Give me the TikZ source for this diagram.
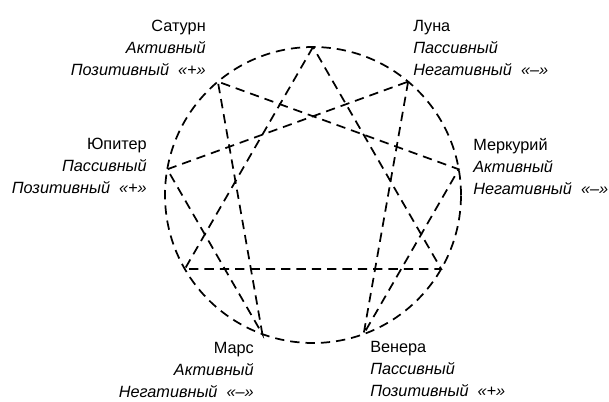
\documentclass[tikz,border=0pt]{standalone}
\usepackage{fontspec}
\setmainfont{Liberation Sans}
\begin{document}
\begin{tikzpicture}[x=0.75pt,y=0.75pt,
    dash line/.style={dash pattern=on 7pt off 4.5pt, line width=1.3pt},
    planet/.style={inner sep=0pt, font=\fontsize{12.2}{16.5}\selectfont}]
  \useasboundingbox (-313,-206) rectangle (296,195);

  % circle and its nine points
  \coordinate (centre) at (0,0);
  \draw[dash line] (centre) circle [radius=148];
  \foreach \i in {0,...,8}
    \coordinate (p\i) at ({90-40*\i}:148);

  % triangle and star
  \draw[dash line] (p0) -- (p6) -- (p3) -- cycle;
  \draw[dash line] (p1) -- (p4) -- (p2) -- (p8) -- (p5) -- (p7) -- cycle;

  % labels
  \node[planet, anchor=north east, align=right] (saturn) at (-107,175)
    {Сатурн\\\textit{Активный}\\\textit{Позитивный \ «+»}};
  \node[planet, anchor=north east, align=right] (jupiter) at (-166,57)
    {Юпитер\\\textit{Пассивный}\\\textit{Позитивный \ «+»}};
  \node[planet, anchor=north west, align=left] (moon) at (100,175)
    {Луна\\\textit{Пассивный}\\\textit{Негативный \ «–»}};
  \node[planet, anchor=north west, align=left] (mercury) at (160,57)
    {Меркурий\\\textit{Активный}\\\textit{Негативный \ «–»}};
  \node[planet, anchor=north east, align=right] (mars) at (-59,-147)
    {Марс\\\textit{Активный}\\\textit{Негативный \ «–»}};
  \node[planet, anchor=north west, align=left] (venus) at (57,-146)
    {Венера\\\textit{Пассивный}\\\textit{Позитивный \ «+»}};
\end{tikzpicture}
\end{document}
